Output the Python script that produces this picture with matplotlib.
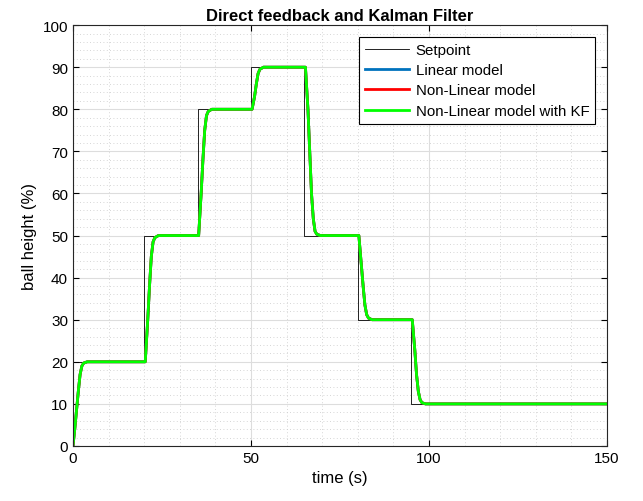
import numpy as np
import matplotlib.pyplot as plt
from matplotlib.ticker import MultipleLocator

plt.rcParams['font.family'] = ['Liberation Sans', 'DejaVu Sans']

# setpoint (step values)
sp_t = [0, 20, 20, 35, 35, 50, 50, 65, 65, 80, 80, 95, 95, 150]
sp_y = [20, 20, 50, 50, 80, 80, 90, 90, 50, 50, 30, 30, 10, 10]

# closed loop response
resp_t = [0, 0.5, 1, 1.5, 2, 2.5, 3, 4,
          20.3, 21, 21.5, 22, 22.5, 23, 24,
          35.3, 36, 36.5, 37, 37.5, 38, 39,
          50.3, 51, 51.5, 52, 52.5, 53.5,
          65.3, 66, 66.5, 67, 67.5, 68, 68.5, 69.5,
          80.3, 81, 81.5, 82, 82.5, 83, 84,
          95.3, 96, 96.5, 97, 97.5, 98, 99, 150]
resp_y = [0, 4, 8.5, 13, 17, 19, 19.7, 20,
          20, 30, 38, 45, 48.5, 49.5, 50,
          50, 60, 68, 75, 78.5, 79.5, 80,
          80, 83, 86, 88.5, 89.5, 90,
          90, 80, 70, 60, 54, 51, 50.3, 50,
          50, 43, 38, 33.5, 31.2, 30.4, 30,
          30, 23, 17, 13, 11, 10.3, 10, 10]

lin_y = resp_y
nonlin_y = resp_y
kf_y = resp_y

fig = plt.figure(figsize=(6.43, 5.02), dpi=100)
ax = fig.add_axes([0.1135, 0.1096, 0.8305, 0.8384])

ax.plot(sp_t, sp_y, color='black', lw=0.6, label='Setpoint')
ax.plot(resp_t, lin_y, color='#0072BD', lw=2, label='Linear model')
ax.plot(resp_t, nonlin_y, color='#FF0000', lw=2, label='Non-Linear model')
ax.plot(resp_t, kf_y, color='#00FF00', lw=2, label='Non-Linear model with KF')

ax.set_xlim(0, 150)
ax.set_ylim(0, 100)
ax.xaxis.set_major_locator(MultipleLocator(50))
ax.xaxis.set_minor_locator(MultipleLocator(10))
ax.yaxis.set_major_locator(MultipleLocator(10))
ax.yaxis.set_minor_locator(MultipleLocator(2))
ax.grid(True, which='major', color='#dddddd', lw=0.8)
ax.grid(True, which='minor', color='#c8c8c8', lw=0.6, ls=(0, (1, 3)))
ax.set_axisbelow(True)
ax.tick_params(which='both', direction='in', top=True, right=True, labelsize=11)
ax.tick_params(which='minor', length=0)
ax.tick_params(which='major', length=4)
for s in ax.spines.values():
    s.set_linewidth(0.8)
    s.set_color('#262626')

ax.set_xlabel('time (s)', fontsize=12)
ax.set_ylabel('ball height (%)', fontsize=12)
ax.set_title('Direct feedback and Kalman Filter', fontsize=12, fontweight='bold', pad=4)

leg = ax.legend(loc='upper right', bbox_to_anchor=(0.978, 0.972), fontsize=10.8,
                fancybox=False, framealpha=1, edgecolor='black',
                handlelength=2.9, borderpad=0.4, labelspacing=0.42, handletextpad=0.45,
                borderaxespad=0)
leg.get_frame().set_linewidth(0.8)

fig.savefig('out.png', dpi=100)
